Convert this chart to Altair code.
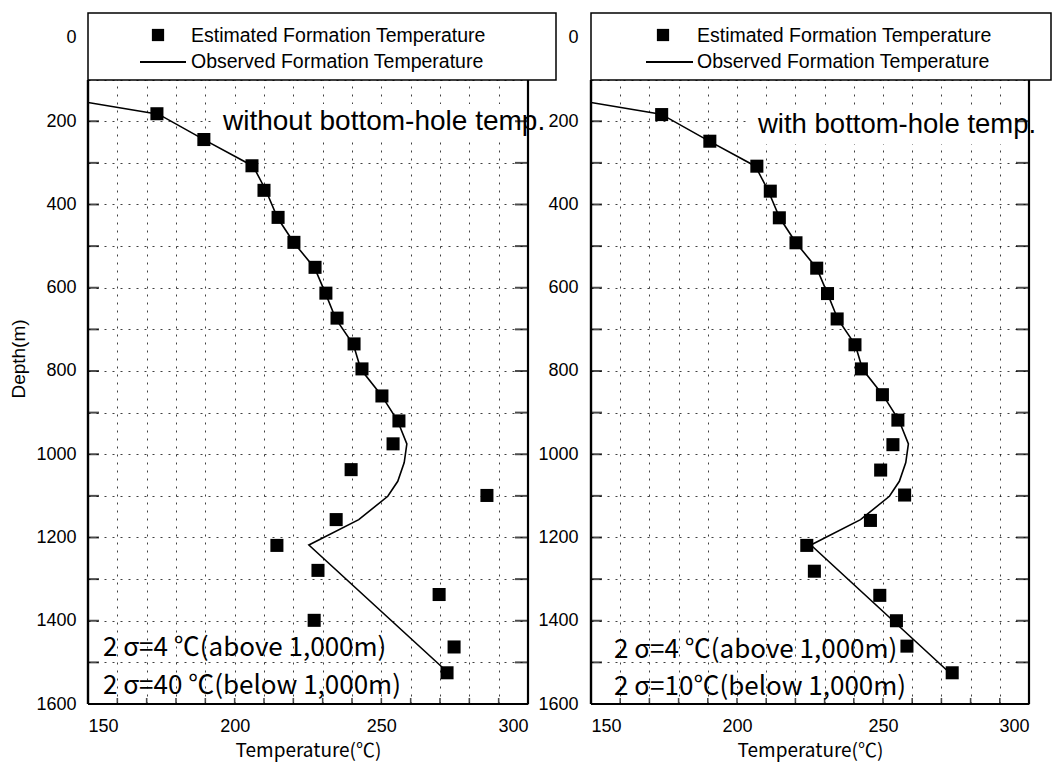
import altair as alt
import pandas as pd

# Estimated formation temperatures (deg C) against depth (m)
LEFT_DEPTH = [182, 244, 307, 366, 431, 491, 551, 613, 673, 735, 795, 860, 920, 975,
              1037, 1099, 1157, 1219, 1279, 1337, 1399, 1463, 1525]
LEFT_TEMP = [173.5, 189.5, 205.9, 210.0, 214.8, 220.2, 227.4, 231.1, 234.9, 240.7, 243.4,
             250.2, 256.0, 254.0, 239.7, 286.0, 234.6, 214.4, 228.4, 269.7, 227.1, 274.8, 272.4]

RIGHT_DEPTH = [184, 248, 308, 368, 432, 492, 553, 614, 675, 737, 795, 857, 918, 977,
               1038, 1098, 1159, 1219, 1281, 1339, 1400, 1461, 1525]
RIGHT_TEMP = [174.2, 190.7, 206.8, 211.4, 214.5, 220.2, 227.3, 231.0, 234.3, 240.4, 242.6,
              249.8, 255.1, 253.4, 249.2, 257.4, 245.7, 223.9, 226.5, 248.9, 254.6, 258.2, 273.7]

# Observed formation temperature profile
OBS_DEPTH = [155, 183, 246, 308, 367, 432, 492, 553, 614, 675, 737, 796, 858, 919,
             975, 1020, 1065, 1101, 1157, 1218, 1525]
OBS_TEMP = [150.0, 174.0, 190.0, 206.3, 210.7, 214.6, 220.2, 227.3, 231.0, 234.5, 240.5,
            243.0, 250.0, 255.5, 258.7, 257.8, 255.6, 252.2, 242.3, 225.3, 272.8]

TEMP_GRID = list(range(150, 301, 10))
DEPTH_GRID = list(range(0, 1601, 100))
SIDE_TICKS = list(range(200, 1501, 100))
BOTTOM_TICKS = list(range(160, 300, 10))

LEGEND_TEXT = ["Estimated Formation Temperature", "Observed Formation Temperature"]
LEFT_TITLE = "without bottom-hole temp."
RIGHT_TITLE = "with bottom-hole temp."
LEFT_NOTES = ["2 σ=4  ℃(above 1,000m)", "2 σ=40 ℃(below 1,000m)"]
RIGHT_NOTES = ["2 σ=4 ℃(above 1,000m)", "2 σ=10℃(below 1,000m)"]

SANS = "Liberation Sans"
CJK = "Noto Sans CJK JP"
H = 691
ONE = pd.DataFrame({"k": [0]})


def label_at(text, x, y, font, size, align="left", baseline="middle"):
    return alt.Chart(ONE).mark_text(align=align, baseline=baseline, font=font,
                                    fontSize=size, color="black").encode(
        x=alt.value(x), y=alt.value(y), text=alt.value(text))


def make_panel(est_temp, est_depth, width, y_title, label_pad, deco):
    xs = alt.Scale(domain=[150, 300], nice=False, zero=False)
    ys = alt.Scale(domain=[-60, 1600], nice=False, zero=False, reverse=True)

    x_axis = alt.Axis(values=TEMP_GRID, format="d",
                      labelExpr="datum.value % 50 == 0 ? datum.label : ''",
                      labelFont=SANS, labelFontSize=18, labelColor="black", labelPadding=13,
                      ticks=False, domain=False,
                      grid=True, gridDash=[2, 6], gridColor="black", gridOpacity=0.75, gridWidth=1,
                      title="Temperature(℃)", titleFont=CJK, titleFontSize=19,
                      titleFontWeight="normal", titleColor="black", titlePadding=6)
    y_kw = dict(values=DEPTH_GRID, format="d",
                labelExpr="datum.value % 200 == 0 ? datum.label : ''",
                labelFont=SANS, labelFontSize=18, labelColor="black", labelPadding=label_pad,
                ticks=False, domain=False,
                grid=True, gridDash=[2, 6], gridColor="black", gridOpacity=0.75, gridWidth=1)
    if y_title:
        y_kw.update(title=y_title, titleFont=SANS, titleFontSize=19, titleFontWeight="normal",
                    titleColor="black", titlePadding=7)
    else:
        y_kw.update(title=None)
    y_axis = alt.Axis(**y_kw)

    def pos(chart):
        return chart.encode(x=alt.X("temp:Q", scale=xs, axis=x_axis),
                            y=alt.Y("depth:Q", scale=ys, axis=y_axis))

    obs = pd.DataFrame({"temp": OBS_TEMP, "depth": OBS_DEPTH, "seq": range(len(OBS_TEMP))})
    est = pd.DataFrame({"temp": est_temp, "depth": est_depth})

    line = pos(alt.Chart(obs).mark_line(color="black", strokeWidth=1.6, clip=True)).encode(
        order=alt.Order("seq:Q"))
    squares = pos(alt.Chart(est).mark_square(size=170, color="black", opacity=1))

    # inward ticks on the left, right and bottom edges
    left_t = pos(alt.Chart(pd.DataFrame({"temp": 150, "depth": SIDE_TICKS})).mark_tick(
        orient="horizontal", size=11, thickness=2, xOffset=5.5, color="black"))
    right_t = pos(alt.Chart(pd.DataFrame({"temp": 300, "depth": SIDE_TICKS})).mark_tick(
        orient="horizontal", size=13, thickness=2, xOffset=-6.5, color="black"))
    bottom_t = pos(alt.Chart(pd.DataFrame({"temp": BOTTOM_TICKS, "depth": 1600})).mark_tick(
        orient="vertical", size=6, thickness=1.6, yOffset=-3, color="black"))

    # plot frame below the legend box
    frame_l = alt.Chart(ONE).mark_rule(color="black", strokeWidth=2.4).encode(
        x=alt.value(0), y=alt.value(67), y2=alt.value(H))
    frame_r = alt.Chart(ONE).mark_rule(color="black", strokeWidth=2.2).encode(
        x=alt.value(width), y=alt.value(67), y2=alt.value(H))
    frame_b = alt.Chart(ONE).mark_rule(color="black", strokeWidth=2.2).encode(
        x=alt.value(0), x2=alt.value(width), y=alt.value(H))

    # panel caption on a white patch
    cap_bg = alt.Chart(ONE).mark_rect(color="white").encode(
        x=alt.value(deco["cap_x0"]), x2=alt.value(deco["cap_x1"]),
        y=alt.value(deco["cap_y0"]), y2=alt.value(deco["cap_y1"]))
    cap = label_at(deco["caption"], deco["cap_tx"], deco["cap_ty"], SANS, deco["cap_size"],
                   baseline="alphabetic")

    # legend box
    box = alt.Chart(ONE).mark_rect(fill="white", stroke="black", strokeWidth=1.5).encode(
        x=alt.value(0), x2=alt.value(deco["box_x1"]), y=alt.value(0), y2=alt.value(67))
    leg_sq = alt.Chart(ONE).mark_square(size=150, color="black", opacity=1).encode(
        x=alt.value(deco["sq_x"]), y=alt.value(22))
    leg_ln = alt.Chart(ONE).mark_rule(color="black", strokeWidth=2).encode(
        x=alt.value(deco["ln_x0"]), x2=alt.value(deco["ln_x1"]), y=alt.value(49))
    leg_t1 = label_at(LEGEND_TEXT[0], deco["txt_x"], 23, SANS, 19.5)
    leg_t2 = label_at(LEGEND_TEXT[1], deco["txt_x"], 49, SANS, 19.5)

    note1 = label_at(deco["notes"][0], deco["notes_x"], deco["notes_y"][0], CJK, 26)
    note2 = label_at(deco["notes"][1], deco["notes_x"], deco["notes_y"][1], CJK, 26)

    return alt.layer(line, squares, cap_bg, cap, box, leg_sq, leg_ln, leg_t1, leg_t2,
                     frame_l, frame_r, frame_b, left_t, right_t, bottom_t,
                     note1, note2).properties(width=width, height=H)


left = make_panel(LEFT_TEMP, LEFT_DEPTH, 440, "Depth(m)", 12, dict(
    cap_x0=126, cap_x1=458, cap_y0=91, cap_y1=125, cap_tx=135, cap_ty=117, cap_size=28,
    caption=LEFT_TITLE, box_x1=468, sq_x=70, ln_x0=52, ln_x1=98, txt_x=103,
    notes=LEFT_NOTES, notes_y=[635, 673], notes_x=15))

right = make_panel(RIGHT_TEMP, RIGHT_DEPTH, 438, "", 13, dict(
    cap_x0=160, cap_x1=450, cap_y0=95, cap_y1=131, cap_tx=167, cap_ty=120, cap_size=27.5,
    caption=RIGHT_TITLE, box_x1=460, sq_x=72, ln_x0=55, ln_x1=102, txt_x=106,
    notes=RIGHT_NOTES, notes_y=[637, 674], notes_x=23))

chart = alt.hconcat(left, right, spacing=63, bounds="flush").properties(
    padding={"left": 9, "top": 12, "right": 0, "bottom": 5},
    background="white",
).configure_view(stroke=None)

chart.save("out.html", embed_options={"renderer": "svg", "actions": False})
